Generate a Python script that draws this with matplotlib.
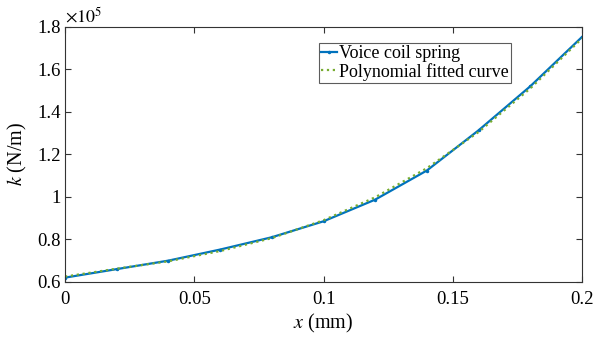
import matplotlib.pyplot as plt
from matplotlib.ticker import FuncFormatter

plt.rcParams["font.family"] = ["Liberation Serif", "DejaVu Serif"]
plt.rcParams["mathtext.fontset"] = "stix"

# displacement (mm) and stiffness (x1e5 N/m)
x_mm = [0, 0.02, 0.04, 0.06, 0.08, 0.10, 0.12, 0.14, 0.16, 0.18, 0.20]
k_spring = [0.62, 0.66, 0.70, 0.752, 0.81, 0.885, 0.987, 1.124, 1.313, 1.52, 1.752]
k_fit = [0.625, 0.662, 0.697, 0.745, 0.806, 0.89, 0.998, 1.135, 1.305, 1.51, 1.745]

fig = plt.figure(figsize=(6.03, 3.4), dpi=100)
ax = fig.add_axes([0.108, 0.171, 0.857, 0.750])

ax.plot(x_mm, k_spring, color="#0072BD", lw=1.6, marker=".", ms=3,
        label="Voice coil spring")
ax.plot(x_mm, k_fit, color="#77AC30", lw=1.6, ls=":",
        label="Polynomial fitted curve")

ax.set_xlim(0, 0.2)
ax.set_ylim(0.6, 1.8)
ax.set_xticks([0, 0.05, 0.1, 0.15, 0.2])
ax.set_yticks([0.6, 0.8, 1.0, 1.2, 1.4, 1.6, 1.8])
fmt = FuncFormatter(lambda v, p: f"{v:g}")
ax.xaxis.set_major_formatter(fmt)
ax.yaxis.set_major_formatter(fmt)
ax.tick_params(direction="in", top=True, right=True, labelsize=13.5,
               length=4, color="#333333")
ax.tick_params(axis="x", pad=6.5)
ax.tick_params(axis="y", pad=3)
for s in ax.spines.values():
    s.set_color("#333333")
    s.set_linewidth(0.8)

ax.set_xlabel(r"$x$ (mm)", fontsize=14.5, labelpad=3)
ax.set_ylabel(r"$k$ (N/m)", fontsize=14.5, labelpad=6)
ax.text(0.0, 1.003, r"$\times10^5$", transform=ax.transAxes, fontsize=13,
        ha="left", va="bottom")

leg = ax.legend(loc="upper left", bbox_to_anchor=(0.491, 0.938), fontsize=13,
                frameon=True, fancybox=False, handlelength=0.9,
                handletextpad=0.1, borderpad=0.12, labelspacing=0.05,
                borderaxespad=0)
leg.get_frame().set_edgecolor("#333333")
leg.get_frame().set_linewidth(0.8)

fig.savefig("out.png", dpi=100)
